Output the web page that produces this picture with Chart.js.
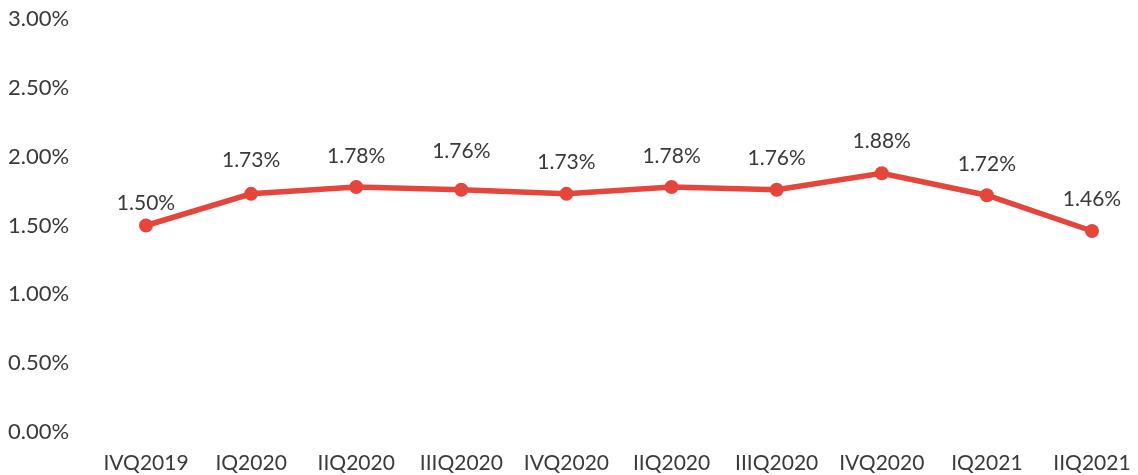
<!DOCTYPE html>
<html>
<head>
<meta charset="utf-8">
<script src="https://cdn.jsdelivr.net/npm/chart.js@4/dist/chart.umd.min.js"></script>
<style>
  html, body { margin: 0; padding: 0; background: #fff; }
  #wrap { width: 1138px; height: 475px; position: relative; }
</style>
</head>
<body>
<div id="wrap"><canvas id="c"></canvas></div>
<script>
// Quarterly ratio, in percent
const quarters = ['IVQ2019', 'IQ2020', 'IIQ2020', 'IIIQ2020', 'IVQ2020', 'IIQ2020', 'IIIQ2020', 'IVQ2020', 'IQ2021', 'IIQ2021'];
const ratioValues = [1.50, 1.73, 1.78, 1.76, 1.73, 1.78, 1.76, 1.88, 1.72, 1.46];
const yTicks = [0, 0.5, 1, 1.5, 2, 2.5, 3];

const textColor = '#3a3a3a';
const fontFamily = 'Lato, "Open Sans", sans-serif';
const fontSize = 21;

// Writes each value above its point; lift is the gap in px between point and label centre
const valueLabels = {
  id: 'valueLabels',
  afterDatasetsDraw(chart, args, opts) {
    const ctx = chart.ctx;
    const meta = chart.getDatasetMeta(0);
    const lift = opts.lift || [];
    ctx.save();
    ctx.font = fontSize + 'px ' + fontFamily;
    ctx.fillStyle = textColor;
    ctx.textAlign = 'center';
    ctx.textBaseline = 'middle';
    meta.data.forEach((pt, i) => {
      const v = chart.data.datasets[0].data[i];
      ctx.fillText(v.toFixed(2) + '%', pt.x, pt.y - (lift[i] ?? 32));
    });
    ctx.restore();
  }
};

new Chart(document.getElementById('c'), {
  type: 'line',
  data: {
    labels: quarters,
    datasets: [{
      data: ratioValues,
      borderColor: '#e5463c',
      backgroundColor: '#e5463c',
      borderWidth: 5.5,
      pointRadius: 7,
      pointHoverRadius: 7,
      pointBorderWidth: 0,
      tension: 0
    }]
  },
  options: {
    responsive: true,
    maintainAspectRatio: false,
    animation: false,
    layout: { padding: { top: 19, right: 46, bottom: 0, left: 8 } },
    plugins: {
      legend: { display: false },
      tooltip: { enabled: false },
      valueLabels: { lift: [22, 34, 31, 38, 32, 31, 31, 32, 31, 32] }
    },
    scales: {
      x: {
        offset: false,
        afterFit(axis) {
          axis.height = 43;
          axis.paddingLeft = 0;
          axis.paddingRight = 0;
        },
        grid: { display: false, drawTicks: false },
        border: { display: false },
        ticks: {
          color: textColor,
          font: { family: fontFamily, size: fontSize },
          padding: 19,
          maxRotation: 0,
          autoSkip: false
        }
      },
      y: {
        min: 0,
        max: 3,
        afterFit(axis) {
          axis.width = 138;
          axis.paddingTop = 0;
          axis.paddingBottom = 0;
        },
        afterBuildTicks(axis) { axis.ticks = yTicks.map(v => ({ value: v })); },
        grid: { display: false, drawTicks: false },
        border: { display: false },
        ticks: {
          color: textColor,
          font: { family: fontFamily, size: 22 },
          crossAlign: 'far',
          padding: 4,
          callback: v => Number(v).toFixed(2) + '%'
        }
      }
    }
  },
  plugins: [valueLabels]
});
</script>
</body>
</html>
